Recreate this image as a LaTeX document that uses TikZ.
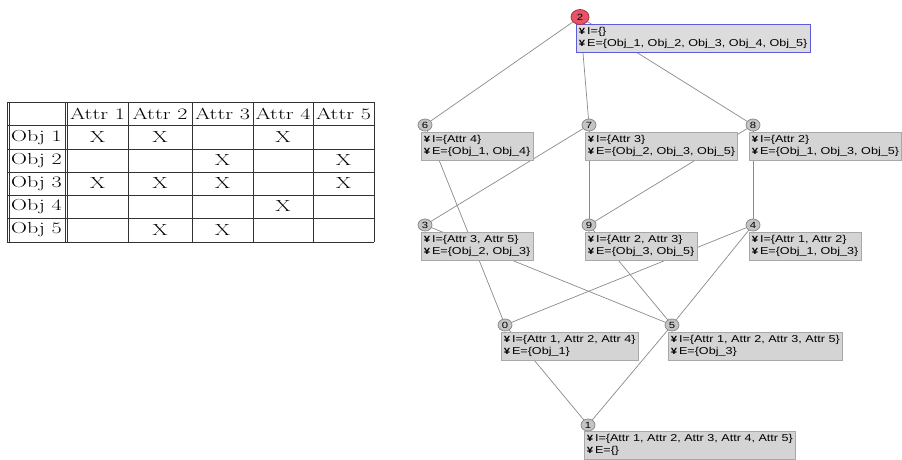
\documentclass[tikz,border=0pt]{standalone}
\usepackage{fontspec}
\usepackage{graphicx}
\newfontfamily\lsans{Liberation Sans}
\newfontfamily\lsansb{Liberation Sans Bold}
\usetikzlibrary{backgrounds,shapes.geometric}
\definecolor{boxgray}{HTML}{D4D4D4}
\definecolor{boxline}{HTML}{A8A8A8}
\definecolor{circgray}{HTML}{C4C4C4}
\definecolor{circline}{HTML}{8C8C8C}
\definecolor{edgegray}{HTML}{8A8A8A}
\definecolor{topred}{HTML}{E65468}
\definecolor{topredline}{HTML}{B0303F}
\definecolor{topblue}{HTML}{5C5CD6}
\definecolor{topfill}{HTML}{DCDCDC}
\newcommand{\bugicon}{{\lsansb\fontsize{9}{9}\selectfont ¥}}
\newcommand{\lattxt}[2]{\scalebox{1.26}[1]{\lsans\fontsize{10}{12}\selectfont\begin{tabular}{@{}l@{}}\bugicon\hspace{1.5pt}#1\\ \bugicon\hspace{1.5pt}#2\end{tabular}}}
\newcommand{\numtxt}[1]{\scalebox{1.26}[1]{\lsans\fontsize{9}{9}\selectfont #1}}
\newcommand{\tabtxt}[1]{\scalebox{1.38}[1]{\fontsize{16}{18}\selectfont #1}}
\tikzset{
  lbox/.style={draw=boxline, fill=boxgray, line width=0.6pt, inner xsep=2.5pt, inner ysep=2pt, anchor=north west},
  topbox/.style={lbox, draw=topblue, fill=topfill, line width=0.9pt},
  cnode/.style={ellipse, draw=circline, fill=circgray, line width=0.8pt, minimum width=14pt, minimum height=12pt, inner sep=0pt},
  topnode/.style={cnode, draw=topredline, fill=topred, minimum width=18pt, minimum height=15pt},
  edge/.style={draw=edgegray, line width=0.7pt},
  tline/.style={draw=black!80, line width=0.9pt},
  cellx/.style={inner sep=0pt}
}
\begin{document}
\begin{tikzpicture}[x=1pt,y=-1pt]
\useasboundingbox (0,0) rectangle (902,459);
% ---------- table ----------
\foreach \xx in {7,67,128,192,253,313,374} \draw[tline] (\xx,102) -- (\xx,242);
\foreach \yy in {102,125,149,172,195,218,242} \draw[tline] (7,\yy) -- (374,\yy);
\draw[tline] (9,102) -- (9,242);
\draw[tline] (65,102) -- (65,242);
\node[cellx] (h1) at (97.5,114) {\tabtxt{Attr 1}};
\node[cellx] (h2) at (160,114) {\tabtxt{Attr 2}};
\node[cellx] (h3) at (222.5,114) {\tabtxt{Attr 3}};
\node[cellx] (h4) at (283,114) {\tabtxt{Attr 4}};
\node[cellx] (h5) at (343.5,114) {\tabtxt{Attr 5}};
\node[cellx,anchor=west] (o1) at (11,137.5) {\tabtxt{Obj 1}};
\node[cellx,anchor=west] (o2) at (11,160.5) {\tabtxt{Obj 2}};
\node[cellx,anchor=west] (o3) at (11,183.5) {\tabtxt{Obj 3}};
\node[cellx,anchor=west] (o4) at (11,206.5) {\tabtxt{Obj 4}};
\node[cellx,anchor=west] (o5) at (11,230) {\tabtxt{Obj 5}};
\node[cellx] (x11) at (97.5,137.5) {\tabtxt{X}};
\node[cellx] (x12) at (160,137.5) {\tabtxt{X}};
\node[cellx] (x14) at (283,137.5) {\tabtxt{X}};
\node[cellx] (x23) at (222.5,160.5) {\tabtxt{X}};
\node[cellx] (x25) at (343.5,160.5) {\tabtxt{X}};
\node[cellx] (x31) at (97.5,183.5) {\tabtxt{X}};
\node[cellx] (x32) at (160,183.5) {\tabtxt{X}};
\node[cellx] (x33) at (222.5,183.5) {\tabtxt{X}};
\node[cellx] (x35) at (343.5,183.5) {\tabtxt{X}};
\node[cellx] (x44) at (283,206.5) {\tabtxt{X}};
\node[cellx] (x52) at (160,230) {\tabtxt{X}};
\node[cellx] (x53) at (222.5,230) {\tabtxt{X}};
% ---------- lattice boxes ----------
\node[topbox] (b2) at (576,24) {\lattxt{I=\{\}}{E=\{Obj\_1, Obj\_2, Obj\_3, Obj\_4, Obj\_5\}}};
\node[lbox] (b6) at (421,132) {\lattxt{I=\{Attr 4\}}{E=\{Obj\_1, Obj\_4\}}};
\node[lbox] (b7) at (585,132) {\lattxt{I=\{Attr 3\}}{E=\{Obj\_2, Obj\_3, Obj\_5\}}};
\node[lbox] (b8) at (749,132) {\lattxt{I=\{Attr 2\}}{E=\{Obj\_1, Obj\_3, Obj\_5\}}};
\node[lbox] (b3) at (421,232) {\lattxt{I=\{Attr 3, Attr 5\}}{E=\{Obj\_2, Obj\_3\}}};
\node[lbox] (b9) at (585,232) {\lattxt{I=\{Attr 2, Attr 3\}}{E=\{Obj\_3, Obj\_5\}}};
\node[lbox] (b4) at (749,232) {\lattxt{I=\{Attr 1, Attr 2\}}{E=\{Obj\_1, Obj\_3\}}};
\node[lbox] (b0) at (501,332) {\lattxt{I=\{Attr 1, Attr 2, Attr 4\}}{E=\{Obj\_1\}}};
\node[lbox] (b5) at (668,332) {\lattxt{I=\{Attr 1, Attr 2, Attr 3, Attr 5\}}{E=\{Obj\_3\}}};
\node[lbox] (b1) at (584,431) {\lattxt{I=\{Attr 1, Attr 2, Attr 3, Attr 4, Attr 5\}}{E=\{\}}};
% ---------- lattice circles ----------
\node[topnode] (c2) at (580,17) {\numtxt{2}};
\node[cnode] (c6) at (425,125) {\numtxt{6}};
\node[cnode] (c7) at (589,125) {\numtxt{7}};
\node[cnode] (c8) at (753,125) {\numtxt{8}};
\node[cnode] (c3) at (425,225) {\numtxt{3}};
\node[cnode] (c9) at (589,225) {\numtxt{9}};
\node[cnode] (c4) at (753,225) {\numtxt{4}};
\node[cnode] (c0) at (505,325) {\numtxt{0}};
\node[cnode] (c5) at (672,325) {\numtxt{5}};
\node[cnode] (c1) at (588,425) {\numtxt{1}};
% ---------- edges ----------
\begin{scope}[on background layer]
\draw[edge] (c2.center) -- (c6.center);
\draw[edge] (c2.center) -- (c7.center);
\draw[edge] (c2.center) -- (c8.center);
\draw[edge] (c6.center) -- (c0.center);
\draw[edge] (c7.center) -- (c3.center);
\draw[edge] (c7.center) -- (c9.center);
\draw[edge] (c8.center) -- (c9.center);
\draw[edge] (c8.center) -- (c4.center);
\draw[edge] (c3.center) -- (c5.center);
\draw[edge] (c9.center) -- (c5.center);
\draw[edge] (c4.center) -- (c0.center);
\draw[edge] (c4.center) -- (c5.center);
\draw[edge] (c0.center) -- (c1.center);
\draw[edge] (c5.center) -- (c1.center);
\end{scope}
\end{tikzpicture}
\end{document}
